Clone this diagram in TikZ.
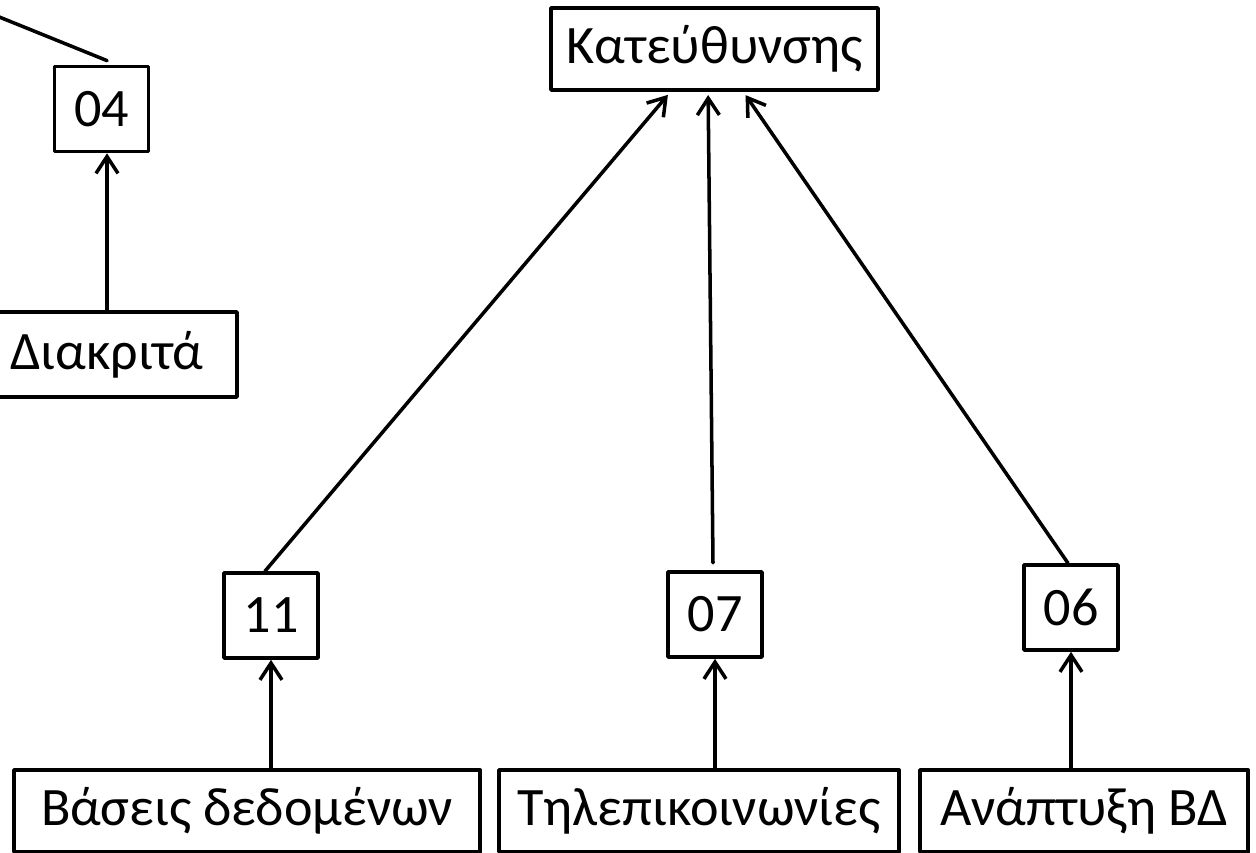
\documentclass[tikz,border=0pt]{standalone}
\usepackage{fontspec}
\setmainfont{Carlito}
\usetikzlibrary{arrows.meta}
\tikzset{
  every picture/.style={line join=round, line cap=round, >={Straight Barb[length=0.42cm,width=0.55cm]}},
  box/.style={draw, line width=2.6pt, inner sep=0pt, font=\fontsize{38.5}{46}\selectfont},
  numbox/.style={box, minimum width=2.35cm, minimum height=2.125cm},
  namebox/.style={box, minimum height=2.05cm},
  link/.style={line width=2.5pt},
}
\begin{document}
\begin{tikzpicture}[x=0.025cm,y=-0.025cm]
\useasboundingbox (0,0) rectangle (1256,853);
\node[namebox, minimum width=8.175cm] (kat) at (714.5,49) {Κατεύθυνσης};
\node[numbox] (n04) at (101.5,109) {04};
\node[box, minimum width=6.5cm, minimum height=2.125cm] (diak) at (107,354.5) {Διακριτά};
\node[numbox] (n11) at (271,615.5) {11};
\node[numbox] (n07) at (715,614.5) {07};
\node[numbox] (n06) at (1071,607.5) {06};
\node[namebox, minimum width=11.65cm] (bas) at (247,811) {Βάσεις δεδομένων};
\node[namebox, minimum width=10cm] (til) at (699,811) {Τηλεπικοινωνίες};
\node[namebox, minimum width=8.2cm] (ana) at (1084,811) {Ανάπτυξη ΒΔ};
\coordinate (up04) at (-60,-7);
% links
\draw[link] (up04) -- ([xshift=0.14cm,yshift=0.1cm]n04.north);
\draw[link,->] (diak.north) -- (diak.north |- n04.south);
\draw[link,->] (bas.north -| n11.south) -- (n11.south);
\draw[link,->] (til.north -| n07.south) -- (n07.south);
\draw[link,->] (ana.north -| n06.south) -- (n06.south);
\draw[link,->,shorten >=0.1cm] ([xshift=-0.15cm]n11.north) -- ([xshift=-1.1cm]kat.south);
\draw[link,->,shorten >=0.08cm] ([xshift=-0.05cm,yshift=0.18cm]n07.north) -- ([xshift=-0.16cm]kat.south);
\draw[link,->,shorten >=0.1cm] ([xshift=-0.075cm]n06.north) -- ([xshift=0.72cm]kat.south);
\end{tikzpicture}
\end{document}
